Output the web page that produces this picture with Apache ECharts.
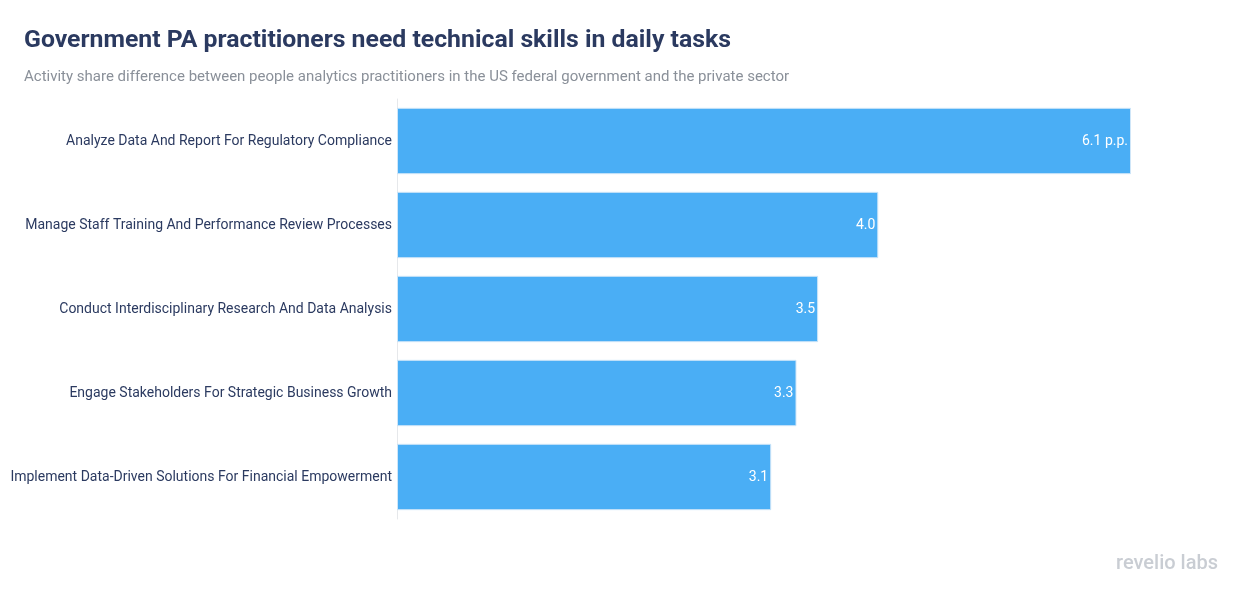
<!DOCTYPE html>
<html>
<head>
<meta charset="utf-8">
<script src="https://cdn.jsdelivr.net/npm/echarts@6/dist/echarts.min.js"></script>
<style>
  html, body { margin: 0; padding: 0; background: #fff; }
  #main { width: 1248px; height: 589px; }
</style>
</head>
<body>
<div id="main"></div>
<script>
// data, top bar first (values in percentage points)
const categories = [
  "Analyze Data And Report For Regulatory Compliance",
  "Manage Staff Training And Performance Review Processes",
  "Conduct Interdisciplinary Research And Data Analysis",
  "Engage Stakeholders For Strategic Business Growth",
  "Implement Data-Driven Solutions For Financial Empowerment"
];
const values = [6.1, 4.0, 3.5, 3.32, 3.11];

var myChart = echarts.init(document.getElementById("main"));
var option;

option = {
  textStyle: { fontFamily: "Roboto" },
  title: {
    text: "Government PA practitioners need technical skills in daily tasks",
    subtext: "Activity share difference between people analytics practitioners in the US federal government and the private sector",
    left: 19,
    top: 23,
    itemGap: 17,
    textStyle: { fontSize: 24.8, fontWeight: "bold", color: "#2b3a60", fontFamily: "Roboto" },
    subtextStyle: { fontSize: 15, color: "#8a9099", fontFamily: "Roboto" }
  },
  grid: {
    left: 397,
    right: 117,
    top: 99,
    height: 420,
    containLabel: false
  },
  xAxis: {
    type: "value",
    min: 0,
    max: 6.1,
    show: false
  },
  yAxis: {
    type: "category",
    inverse: true,
    data: categories,
    axisLine: { show: true, lineStyle: { color: "#e6e8eb", width: 1 } },
    axisTick: { show: false },
    axisLabel: { color: "#2b3a60", fontSize: 14, margin: 5 }
  },
  series: [
    {
      type: "bar",
      data: values,
      barCategoryGap: "21%",
      itemStyle: {
        color: "#4aaef5",
        borderColor: "#cfe6f8",
        borderWidth: 1
      },
      label: {
        show: true,
        position: "insideRight",
        distance: 3,
        color: "#ffffff",
        fontSize: 14,
        formatter: function (p) {
          var s = p.value.toFixed(1);
          return p.dataIndex === 0 ? s + " p.p." : s;
        }
      },
      silent: true
    }
  ],
  graphic: [
    {
      type: "text",
      right: 30,
      top: 554,
      style: {
        text: "revelio labs",
        fill: "#c9cdd3",
        fontSize: 20,
        fontWeight: 500,
        fontFamily: "Roboto"
      }
    }
  ]
};

option && myChart.setOption(option);
</script>
</body>
</html>
